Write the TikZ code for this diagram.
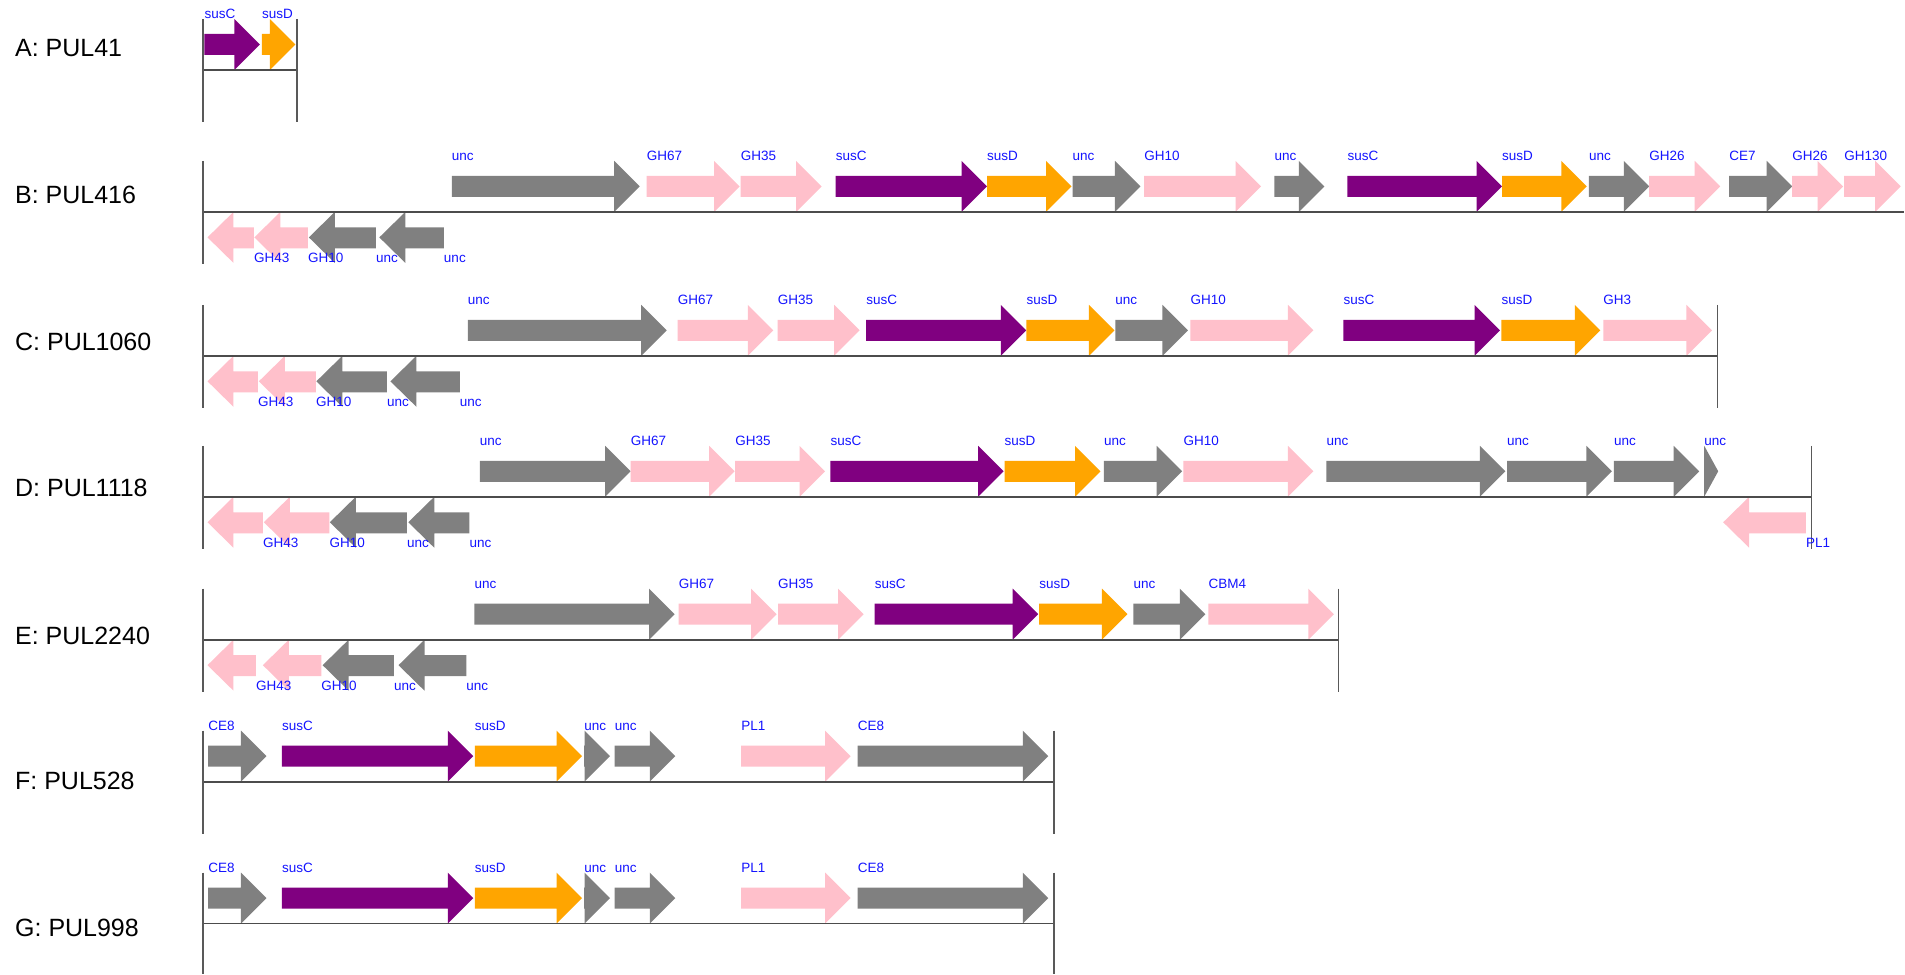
\documentclass[tikz,border=0pt]{standalone}
\usepackage{fontspec}
\setmainfont{Liberation Sans}
\definecolor{gpurple}{RGB}{128,0,128}
\definecolor{gorange}{RGB}{255,165,0}
\definecolor{ggray}{RGB}{128,128,128}
\definecolor{gpink}{RGB}{255,192,203}
\definecolor{glab}{RGB}{20,20,255}
\pgfdeclarelayer{genelayer}
\pgfsetlayers{genelayer,main}
\newcounter{gn}
\tikzset{
  genelab/.style={text=glab, font=\fontsize{13.5}{14}\selectfont, inner sep=0pt, anchor=base west},
  rowlab/.style={font=\fontsize{25}{28}\selectfont, inner sep=0pt, anchor=base west},
  axisline/.style={line width=1.8pt, draw=black!70},
  tickline/.style={line width=1.4pt, draw=black!65}
}
% forward gene: left x, tip x, line y, colour, label
\newcommand{\fgene}[5]{%
  \pgfmathsetmacro\gxb{max(#1,#2-25.5)}%
  \begin{pgfonlayer}{genelayer}%
  \fill[#4] (#1,#3-36) -- (\gxb,#3-36) -- (\gxb,#3-51) -- (#2,#3-25.5) -- (\gxb,#3) -- (\gxb,#3-15) -- (#1,#3-15) -- cycle;%
  \end{pgfonlayer}%
  \stepcounter{gn}%
  \node[genelab] (g\arabic{gn}) at (#1,#3-51) {#5};%
}
% reverse gene: tip x, right x, line y, colour, label
\newcommand{\rgene}[5]{%
  \pgfmathsetmacro\gxb{min(#2,#1+26)}%
  \begin{pgfonlayer}{genelayer}%
  \fill[#4] (#2,#3+15.5) -- (\gxb,#3+15.5) -- (\gxb,#3) -- (#1,#3+25.5) -- (\gxb,#3+51) -- (\gxb,#3+36.5) -- (#2,#3+36.5) -- cycle;%
  \end{pgfonlayer}%
  \stepcounter{gn}%
  \node[genelab] (g\arabic{gn}) at (#2,#3+51) {#5};%
}
% locus frame: line y, right x, node name, label, label baseline, draw right tick (1/0)
\newcommand{\locus}[6]{%
  \draw[axisline] (203,#1) -- (#2,#1);%
  \draw[tickline] (203,#1-51) -- (203,{min(#1+52,974)});%
  \ifnum#6=1 \draw[tickline] (#2,#1-51) -- (#2,{min(#1+52,974)});\fi%
  \node[rowlab] (#3) at (15,#5) {#4};%
}
\begin{document}
\begin{tikzpicture}[x=1pt,y=-1pt]
\begin{pgfonlayer}{genelayer}
\useasboundingbox[fill=white] (0,0) rectangle (1905,974);
\end{pgfonlayer}
% ---------- A ----------
\locus{70}{297}{rowA}{A: PUL41}{57}{1}
\fgene{204.5}{260}{70}{gpurple}{susC}
\fgene{262}{295.5}{70}{gorange}{susD}
% ---------- B ----------
\locus{212}{1905}{rowB}{B: PUL416}{203.7}{0}
\fgene{452}{640}{212}{ggray}{unc}
\fgene{647}{740}{212}{gpink}{GH67}
\fgene{741}{822}{212}{gpink}{GH35}
\fgene{836}{987.5}{212}{gpurple}{susC}
\fgene{987.5}{1072}{212}{gorange}{susD}
\fgene{1073}{1141}{212}{ggray}{unc}
\fgene{1144.6}{1261.6}{212}{gpink}{GH10}
\fgene{1275}{1325}{212}{ggray}{unc}
\fgene{1348}{1502.7}{212}{gpurple}{susC}
\fgene{1502.7}{1587.5}{212}{gorange}{susD}
\fgene{1589.6}{1650}{212}{ggray}{unc}
\fgene{1650}{1721}{212}{gpink}{GH26}
\fgene{1730}{1793}{212}{ggray}{CE7}
\fgene{1793}{1844}{212}{gpink}{GH26}
\fgene{1845}{1901.6}{212}{gpink}{GH130}
\rgene{207.6}{254}{212}{gpink}{GH43}
\rgene{254.5}{308}{212}{gpink}{GH10}
\rgene{309}{376}{212}{ggray}{unc}
\rgene{379.5}{444}{212}{ggray}{unc}
% ---------- C ----------
\locus{356}{1718}{rowC}{C: PUL1060}{350.3}{1}
\fgene{468}{667}{356}{ggray}{unc}
\fgene{678}{773.7}{356}{gpink}{GH67}
\fgene{778}{860}{356}{gpink}{GH35}
\fgene{866.5}{1026.8}{356}{gpurple}{susC}
\fgene{1026.8}{1115}{356}{gorange}{susD}
\fgene{1115.8}{1188.5}{356}{ggray}{unc}
\fgene{1191}{1314}{356}{gpink}{GH10}
\fgene{1344}{1500.7}{356}{gpurple}{susC}
\fgene{1502}{1601}{356}{gorange}{susD}
\fgene{1604}{1712.7}{356}{gpink}{GH3}
\rgene{207.6}{258}{356}{gpink}{GH43}
\rgene{259}{316}{356}{gpink}{GH10}
\rgene{316.5}{387}{356}{ggray}{unc}
\rgene{390.6}{460}{356}{ggray}{unc}
% ---------- D ----------
\locus{497}{1812.6}{rowD}{D: PUL1118}{497}{1}
\fgene{480}{631}{497}{ggray}{unc}
\fgene{631}{735}{497}{gpink}{GH67}
\fgene{735.5}{825.4}{497}{gpink}{GH35}
\fgene{830.8}{1004}{497}{gpurple}{susC}
\fgene{1005}{1101}{497}{gorange}{susD}
\fgene{1104.5}{1182.6}{497}{ggray}{unc}
\fgene{1184}{1314}{497}{gpink}{GH10}
\fgene{1327}{1506}{497}{ggray}{unc}
\fgene{1507.7}{1612.6}{497}{ggray}{unc}
\fgene{1614.7}{1700}{497}{ggray}{unc}
\fgene{1705}{1719}{497}{ggray}{unc}
\rgene{207.6}{263}{497}{gpink}{GH43}
\rgene{264}{329.5}{497}{gpink}{GH10}
\rgene{330}{407}{497}{ggray}{unc}
\rgene{408.5}{469.6}{497}{ggray}{unc}
\rgene{1724}{1806.8}{497}{gpink}{PL1}
% ---------- E ----------
\locus{640}{1339}{rowE}{E: PUL2240}{644.5}{1}
\fgene{474.6}{675}{640}{ggray}{unc}
\fgene{679}{777}{640}{gpink}{GH67}
\fgene{778.4}{864}{640}{gpink}{GH35}
\fgene{875}{1038.7}{640}{gpurple}{susC}
\fgene{1039.7}{1128}{640}{gorange}{susD}
\fgene{1134}{1206}{640}{ggray}{unc}
\fgene{1209}{1334.4}{640}{gpink}{CBM4}
\rgene{207.6}{256}{640}{gpink}{GH43}
\rgene{263}{321.4}{640}{gpink}{GH10}
\rgene{322.8}{394}{640}{ggray}{unc}
\rgene{398.7}{466.5}{640}{ggray}{unc}
% ---------- F ----------
\locus{782}{1054.4}{rowF}{F: PUL528}{790.3}{1}
\fgene{208.3}{266.6}{782}{ggray}{CE8}
\fgene{282}{473.5}{782}{gpurple}{susC}
\fgene{475}{582.3}{782}{gorange}{susD}
\fgene{584.4}{610.3}{782}{ggray}{unc}
\fgene{615}{675.6}{782}{ggray}{unc}
\fgene{741.5}{851}{782}{gpink}{PL1}
\fgene{858}{1048.8}{782}{ggray}{CE8}
% ---------- G ----------
\locus{924}{1054.4}{rowG}{G: PUL998}{937}{1}
\fgene{208.3}{266.6}{924}{ggray}{CE8}
\fgene{282}{473.5}{924}{gpurple}{susC}
\fgene{475}{582.3}{924}{gorange}{susD}
\fgene{584.4}{610.3}{924}{ggray}{unc}
\fgene{615}{675.6}{924}{ggray}{unc}
\fgene{741.5}{851}{924}{gpink}{PL1}
\fgene{858}{1048.8}{924}{ggray}{CE8}
\end{tikzpicture}
\end{document}
